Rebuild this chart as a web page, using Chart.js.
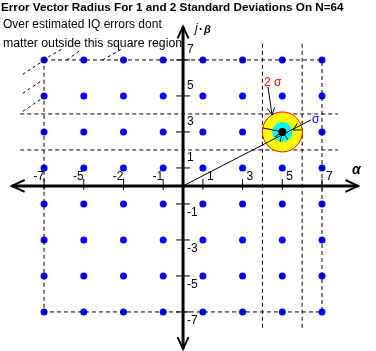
<!DOCTYPE html>
<html>
<head>
<meta charset="utf-8">
<script src="https://cdn.jsdelivr.net/npm/chart.js@4"></script>
<style>
  body { margin: 0; background: #fff; }
  #wrap { width: 376px; height: 351px; }
</style>
</head>
<body>
<div id="wrap"><canvas id="chart" width="376" height="351"></canvas></div>
<script>
// 64-QAM constellation levels (both I and Q)
const levels = [-7, -5, -3, -1, 1, 3, 5, 7];
// tick labels as printed on the original (note the "-2")
const xTickLabels = ['-7', '-5', '-2', '-1', '1', '3', '5', '7'];
const yTickLabels = ['-7', '-5', '-3', '-1', '1', '3', '5', '7'];

// symbol with the error circles
const target = { x: 5, y: 3 };
const regionX = [4, 6];
const regionY = [2, 4];
const regionXSpan = [-7.9, 7.9];
const regionYSpan = [-8.2, 7.8];

// outer square through the corner symbols
const squareCorners = [
  { x: -7, y: 7 }, { x: 7, y: 7 }, { x: 7, y: -7 }, { x: -7, y: -7 }, { x: -7, y: 7 }
];

// short hatch strokes outside the square (top-left)
const hatchSegments = [
  [{ x: -7.05, y: 7 }, { x: -6.1, y: 7.6 }],
  [{ x: -5.85, y: 7 }, { x: -5.1, y: 7.6 }],
  [{ x: -4.05, y: 7 }, { x: -3.1, y: 7.6 }],
  [{ x: -8.07, y: 6.2 }, { x: -7.05, y: 6.95 }],
  [{ x: -8.07, y: 5.15 }, { x: -7.05, y: 5.9 }],
  [{ x: -8.07, y: 4.15 }, { x: -7.05, y: 4.9 }]
];

// error vector from origin, and the sigma arrows
const errorVector = [{ x: 0, y: 0 }, { x: 6.45, y: 3.67 }];
const sigmaTip = { x: 5.54, y: 3.1 };
const twoSigmaArrow = [{ x: 4.28, y: 5.5 }, { x: 4.48, y: 3.95 }];
const spikeEnds = [
  { x: 4.03, y: 3.22 }, { x: 4.63, y: 2.72 }, { x: 4.89, y: 2.45 }, { x: 5.29, y: 2.56 }
];

// circle radii in pixels
const radii = { twoSigma: 20, sigma: 10, center: 4 };

// axis extents
const xAxisSpan = [-8.62, 8.82];
const yAxisSpan = [-9.05, 8.85];

const FONT = '"Liberation Sans", Arial, sans-serif';

const points = [];
levels.forEach(y => levels.forEach(x => points.push({ x, y })));

const dashed = (data, order) => ({
  data, showLine: true, pointRadius: 0, borderColor: '#000', borderWidth: 1,
  borderDash: [4, 3], fill: false, order
});

const datasets = [
  { data: points, pointRadius: 3.5, pointBackgroundColor: '#0000ff', pointBorderColor: '#0000ff', pointBorderWidth: 0, order: 10 },
  dashed(squareCorners, 8),
  ...regionY.map(v => dashed([{ x: regionXSpan[0] - 0.3, y: v }, { x: regionXSpan[1] - 0.1, y: v }], 8)),
  ...regionX.map(v => dashed([{ x: v, y: regionYSpan[1] + 0.1 }, { x: v, y: regionYSpan[0] + 0.3 }], 8)),
  ...hatchSegments.map(seg => Object.assign(dashed(seg, 8), { borderDash: [3, 3] })),
  { data: [target], pointRadius: radii.twoSigma, pointBackgroundColor: '#ffff00', pointBorderColor: '#ff0000', pointBorderWidth: 1, order: 4 },
  { data: [target], pointRadius: radii.sigma, pointBackgroundColor: '#00ffff', pointBorderColor: '#00ffff', pointBorderWidth: 0, order: 3 },
  ...spikeEnds.map(p => ({ data: [target, p], showLine: true, pointRadius: 0, borderColor: '#000', borderWidth: 1, order: 2 })),
  { data: [target], pointRadius: radii.center, pointBackgroundColor: '#000', pointBorderColor: '#000', pointBorderWidth: 0, order: 1 },
  { data: errorVector, showLine: true, pointRadius: 0, borderColor: '#000', borderWidth: 1, order: 0 },
  { data: twoSigmaArrow, showLine: true, pointRadius: 0, borderColor: '#000', borderWidth: 1, order: 0 }
];

function arrowHead(ctx, tip, from, len, ang) {
  const a = Math.atan2(tip.y - from.y, tip.x - from.x);
  ctx.beginPath();
  ctx.moveTo(tip.x - len * Math.cos(a - ang), tip.y - len * Math.sin(a - ang));
  ctx.lineTo(tip.x, tip.y);
  ctx.lineTo(tip.x - len * Math.cos(a + ang), tip.y - len * Math.sin(a + ang));
  ctx.stroke();
}

const overlay = {
  id: 'overlay',
  beforeDatasetsDraw(chart) {
    const { ctx, scales: { x, y } } = chart;
    const x0 = x.getPixelForValue(0), y0 = y.getPixelForValue(0);
    ctx.save();
    ctx.strokeStyle = '#000';
    ctx.fillStyle = '#000';
    // axes
    ctx.lineWidth = 3;
    const xl = x.getPixelForValue(xAxisSpan[0]), xr = x.getPixelForValue(xAxisSpan[1]);
    const yt = y.getPixelForValue(yAxisSpan[1]), yb = y.getPixelForValue(yAxisSpan[0]);
    ctx.beginPath();
    ctx.moveTo(xl, y0); ctx.lineTo(xr, y0);
    ctx.moveTo(x0, yt); ctx.lineTo(x0, yb);
    ctx.stroke();
    ctx.lineWidth = 2;
    const ang = 25 * Math.PI / 180;
    arrowHead(ctx, { x: xr, y: y0 }, { x: x0, y: y0 }, 14, ang);
    arrowHead(ctx, { x: xl, y: y0 }, { x: x0, y: y0 }, 14, ang);
    arrowHead(ctx, { x: x0, y: yt }, { x: x0, y: y0 }, 13, ang);
    arrowHead(ctx, { x: x0, y: yb }, { x: x0, y: y0 }, 13, ang);
    // ticks and labels
    ctx.lineWidth = 1;
    ctx.font = '12px ' + FONT;
    ctx.textBaseline = 'middle';
    levels.forEach((v, i) => {
      const px = x.getPixelForValue(v);
      ctx.beginPath();
      ctx.moveTo(px, y0 - 7); ctx.lineTo(px, y0 + 4);
      ctx.stroke();
      ctx.textAlign = v < 0 ? 'right' : 'left';
      ctx.fillText(xTickLabels[i], v < 0 ? px : px + 4, y0 - 9);
      const py = y.getPixelForValue(v);
      ctx.beginPath();
      ctx.moveTo(x0 - 7, py); ctx.lineTo(x0 + 7, py);
      ctx.stroke();
      ctx.textAlign = 'left';
      ctx.fillText(yTickLabels[i], x0 + 4, v < 0 ? py + 9 : py - 10);
    });
    ctx.restore();
  },
  afterDatasetsDraw(chart) {
    const { ctx, scales: { x, y } } = chart;
    const P = p => ({ x: x.getPixelForValue(p.x), y: y.getPixelForValue(p.y) });
    ctx.save();
    ctx.strokeStyle = '#000';
    ctx.lineWidth = 1;
    const ang = 28 * Math.PI / 180;
    arrowHead(ctx, P(sigmaTip), P(errorVector[1]), 8, ang);
    arrowHead(ctx, P(twoSigmaArrow[1]), P(twoSigmaArrow[0]), 8, ang);

    ctx.fillStyle = '#000';
    ctx.textBaseline = 'middle';
    ctx.textAlign = 'left';
    ctx.font = 'bold 11.7px ' + FONT;
    ctx.fillText('Error Vector Radius For 1 and 2 Standard Deviations On N=64', 1, 8);
    ctx.font = '12px ' + FONT;
    ctx.fillText('Over estimated IQ errors dont', 3, 25);
    ctx.font = '12.3px ' + FONT;
    ctx.fillText('matter outside this square region', 3, 44);

    // axis names
    ctx.font = 'italic bold 14px ' + FONT;
    ctx.fillText('\u03b1', 352, 170);
    ctx.font = 'italic 12px ' + FONT;
    ctx.fillText('j', 195, 29);
    ctx.font = 'bold 12px ' + FONT;
    ctx.fillText('\u00b7', 199, 30);
    ctx.font = 'italic bold 11px ' + FONT;
    ctx.fillText('\u03b2', 204, 30);

    // sigma labels
    ctx.font = '12px ' + FONT;
    ctx.fillStyle = '#ff0000';
    ctx.fillText('2 \u03c3', 264, 83);
    ctx.fillStyle = '#0000ff';
    ctx.fillText('\u03c3', 312, 120);
    ctx.restore();
  }
};

new Chart(document.getElementById('chart'), {
  type: 'scatter',
  data: { datasets },
  options: {
    responsive: false,
    animation: false,
    layout: { padding: 0, autoPadding: false },
    plugins: { legend: { display: false }, tooltip: { enabled: false }, title: { display: false } },
    scales: {
      x: { type: 'linear', min: -9.22, max: 9.72, display: false },
      y: { type: 'linear', min: -9.17, max: 10.33, display: false }
    }
  },
  plugins: [overlay]
});
</script>
</body>
</html>
